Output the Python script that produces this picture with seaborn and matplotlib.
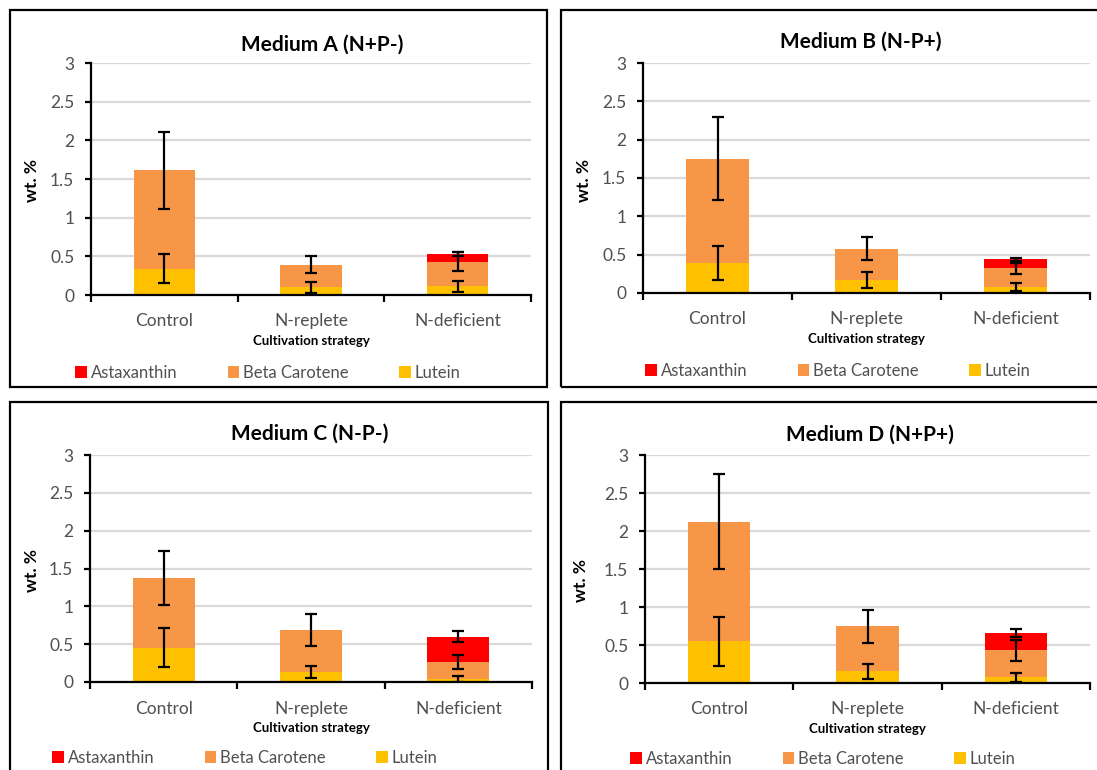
import matplotlib
matplotlib.use("Agg")
import matplotlib.pyplot as plt
from matplotlib.patches import Rectangle, Patch
from matplotlib.ticker import FixedLocator
import seaborn as sns

sns.set_theme(style="white")
plt.rcParams["font.family"] = ["Lato", "DejaVu Sans"]

# ---- data -------------------------------------------------------------
categories = ["Control", "N-replete", "N-deficient"]
pigments = ["Astaxanthin", "Beta Carotene", "Lutein"]
titles = ["Medium A (N+P-)", "Medium B (N-P+)", "Medium C (N-P-)", "Medium D (N+P+)"]

lutein_A = [0.34, 0.10, 0.11]
beta_A = [1.27, 0.29, 0.32]
astax_A = [0.0, 0.0, 0.10]
lutein_err_A = [0.19, 0.07, 0.075]
beta_err_A = [0.50, 0.11, 0.12]
astax_err_A = [0.0, 0.0, 0.03]

lutein_B = [0.39, 0.17, 0.08]
beta_B = [1.36, 0.41, 0.24]
astax_B = [0.0, 0.0, 0.12]
lutein_err_B = [0.225, 0.11, 0.055]
beta_err_B = [0.54, 0.15, 0.07]
astax_err_B = [0.0, 0.0, 0.02]

lutein_C = [0.455, 0.135, 0.045]
beta_C = [0.92, 0.555, 0.22]
astax_C = [0.0, 0.0, 0.335]
lutein_err_C = [0.26, 0.083, 0.04]
beta_err_C = [0.36, 0.21, 0.09]
astax_err_C = [0.0, 0.0, 0.07]

lutein_D = [0.55, 0.155, 0.075]
beta_D = [1.575, 0.59, 0.355]
astax_D = [0.0, 0.0, 0.225]
lutein_err_D = [0.32, 0.10, 0.06]
beta_err_D = [0.62, 0.22, 0.14]
astax_err_D = [0.0, 0.0, 0.055]

yticks = [0, 0.5, 1, 1.5, 2, 2.5, 3]
ytick_labels = ["0", "0.5", "1", "1.5", "2", "2.5", "3"]

# ---- styling ------------------------------------------------------------
C_ASTAX = "#FF0000"
C_BETA = "#F79646"
C_LUTEIN = "#FFC000"
TICK_COLOR = "#505050"

W, H = 1097, 770
fig = plt.figure(figsize=(W / 100, H / 100), dpi=100)
fig.patch.set_facecolor("white")


def fx(x):
    return x / W


def fy(y):
    return 1 - y / H


panels = [
    dict(data=(lutein_A, beta_A, astax_A, lutein_err_A, beta_err_A, astax_err_A),
         box=(10, 10, 547, 387), axes=(91, 63, 531, 295),
         title=(322, 45), ylab=(32, 180), cat_y=320, xlab_y=341, leg=(268, 373)),
    dict(data=(lutein_B, beta_B, astax_B, lutein_err_B, beta_err_B, astax_err_B),
         box=(561, 10, 1100, 387), axes=(643, 63, 1090, 293),
         title=(861, 42), ylab=(584, 180), cat_y=318, xlab_y=339, leg=(838, 371)),
    dict(data=(lutein_C, beta_C, astax_C, lutein_err_C, beta_err_C, astax_err_C),
         box=(10, 402, 548, 773), axes=(90, 455, 532, 682),
         title=(310, 434), ylab=(32, 570), cat_y=708, xlab_y=728, leg=(245, 758)),
    dict(data=(lutein_D, beta_D, astax_D, lutein_err_D, beta_err_D, astax_err_D),
         box=(561, 402, 1100, 773), axes=(645, 455, 1090, 683),
         title=(870, 435), ylab=(581, 580), cat_y=708, xlab_y=729, leg=(823, 759)),
]

for p, title in zip(panels, titles):
    lut, beta, ast, e_lut, e_beta, e_ast = p["data"]

    # panel frame
    bx0, by0, bx1, by1 = p["box"]
    fig.patches.append(Rectangle((fx(bx0), fy(by1)), fx(bx1 - bx0), (by1 - by0) / H,
                                 transform=fig.transFigure, fill=False,
                                 edgecolor="black", linewidth=1.6, zorder=0))

    ax0, ay0, ax1, ay1 = p["axes"]
    ax = fig.add_axes([fx(ax0), fy(ay1), fx(ax1 - ax0), (ay1 - ay0) / H])
    ax.set_facecolor("white")

    lut_top = [a for a in lut]
    beta_top = [a + b for a, b in zip(lut, beta)]
    total = [a + b + c for a, b, c in zip(lut, beta, ast)]

    # stacked bars: draw cumulative heights from the tallest down
    sns.barplot(x=categories, y=total, order=categories, color=C_ASTAX,
                width=0.42, saturation=1, linewidth=0, ax=ax, zorder=2)
    sns.barplot(x=categories, y=beta_top, order=categories, color=C_BETA,
                width=0.42, saturation=1, linewidth=0, ax=ax, zorder=2)
    sns.barplot(x=categories, y=lut_top, order=categories, color=C_LUTEIN,
                width=0.42, saturation=1, linewidth=0, ax=ax, zorder=2)

    xs = list(range(len(categories)))
    ekw = dict(fmt="none", ecolor="black", elinewidth=1.6, capsize=4,
               capthick=1.6, zorder=5)
    ax.errorbar(xs, lut_top, yerr=e_lut, **ekw)
    ax.errorbar(xs, beta_top, yerr=e_beta, **ekw)
    ax_x = [x for x, v in zip(xs, ast) if v > 0]
    ax.errorbar(ax_x, [t for t, v in zip(total, ast) if v > 0],
                yerr=[e for e, v in zip(e_ast, ast) if v > 0], **ekw)

    ax.set_xlim(-0.5, 2.5)
    ax.set_ylim(0, 3)
    ax.set_yticks(yticks)
    ax.set_yticklabels(ytick_labels)
    ax.xaxis.set_minor_locator(FixedLocator([-0.5, 0.5, 1.5, 2.5]))
    ax.set_xticks(xs)
    ax.set_xticklabels(categories)

    ax.yaxis.grid(True, color="#D9D9D9", linewidth=1.6)
    ax.xaxis.grid(False)
    ax.set_axisbelow(True)
    for s in ("top", "right"):
        ax.spines[s].set_visible(False)
    for s in ("left", "bottom"):
        ax.spines[s].set_color("black")
        ax.spines[s].set_linewidth(1.6)
        ax.spines[s].set_zorder(6)

    ax.tick_params(axis="y", which="major", direction="out", length=4, width=1.6,
                   color="black", labelsize=12.5, labelcolor=TICK_COLOR, pad=8, left=True)
    ax.tick_params(axis="x", which="major", length=0, labelsize=12.5,
                   labelcolor=TICK_COLOR, pad=(p["cat_y"] - ay1 - 7) * 0.72)
    ax.tick_params(axis="x", which="minor", direction="out", length=5, width=1.6,
                   color="black", bottom=True)

    ax.set_xlabel("Cultivation strategy", fontsize=9.5, fontweight="bold", color="black")
    ax.xaxis.set_label_coords(fx((ax0 + ax1) / 2), fy(p["xlab_y"]), transform=fig.transFigure)
    ax.xaxis.label.set_va("center")

    ax.set_ylabel("wt. %", fontsize=12.5, fontweight="bold", color="black")
    ax.yaxis.set_label_coords(fx(p["ylab"][0]), fy(p["ylab"][1]), transform=fig.transFigure)
    ax.yaxis.label.set_va("center")

    fig.text(fx(p["title"][0]), fy(p["title"][1]), title, ha="center", va="center",
             fontsize=15, fontweight="bold", color="black")

    handles = [Patch(facecolor=C_ASTAX, edgecolor="none"),
               Patch(facecolor=C_BETA, edgecolor="none"),
               Patch(facecolor=C_LUTEIN, edgecolor="none")]
    leg = ax.legend(handles, pigments, loc="center",
                    bbox_to_anchor=(fx(p["leg"][0]), fy(p["leg"][1])),
                    bbox_transform=fig.transFigure, ncol=3, frameon=False,
                    fontsize=12, handlelength=0.7, handleheight=0.7,
                    handletextpad=0.25, columnspacing=3.0, borderpad=0)
    for t in leg.get_texts():
        t.set_color(TICK_COLOR)

fig.savefig("out.png", dpi=100, facecolor="white")
